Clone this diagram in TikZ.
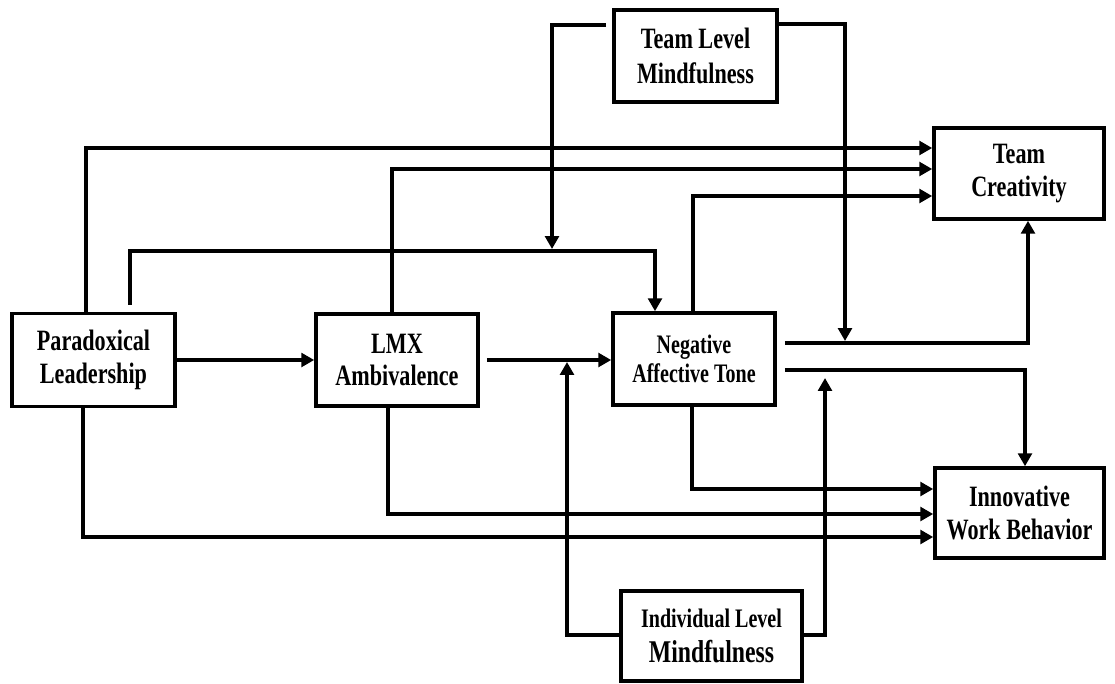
\documentclass[tikz,border=0pt]{standalone}
\usepackage{fontspec}
\setmainfont{Liberation Serif}[FakeStretch=0.75]
\usetikzlibrary{arrows.meta,calc}

\begin{document}
\begin{tikzpicture}[
  x=0.025cm,y=-0.025cm,
  every node/.style={font=\bfseries\fontsize{21}{23}\selectfont},
  var/.style={draw,line width=2.5pt,align=center,inner sep=0pt},
  link/.style={line width=2.5pt},
  arr/.style={link,-{Triangle[length=0.32cm,width=0.34cm]}}
]
  \useasboundingbox (0,0) rectangle (1115,683);

  % Variables
  \node[var,minimum width=4.075cm,minimum height=2.325cm] (PL)  at (93.5,360) {Paradoxical\\Leadership};
  \node[var,minimum width=4.05cm,minimum height=2.3cm]    (LMX) at (397,360)  {LMX\\Ambivalence};
  \node[var,minimum width=4.05cm,minimum height=2.3cm,font=\bfseries\fontsize{19}{21}\selectfont] (NAT) at (694,359) {Negative\\Affective Tone};
  \node[var,minimum width=4.075cm,minimum height=2.3cm,font=\bfseries\fontsize{21}{25}\selectfont] (TLM) at (695.5,56) {Team Level\\Mindfulness};
  \node[var,minimum width=4.25cm,minimum height=2.275cm]  (TC)  at (1019,173.5) {Team\\Creativity};
  \node[var,minimum width=4.225cm,minimum height=2.25cm]  (IWB) at (1019.5,513) {Innovative\\Work Behavior};
  \node[var,minimum width=4.525cm,minimum height=2.25cm,font=\bfseries\fontsize{19}{25}\selectfont] (ILM) at (711.5,636) {Individual Level\\{\fontsize{22.5}{25}\selectfont Mindfulness}};

  % Points where moderators meet a path
  \coordinate (j1) at (552,249);
  \coordinate (j2) at (845,341);
  \coordinate (j3) at (567,362);
  \coordinate (j4) at (825,378);

  % Main chain
  \draw[arr] (PL) -- (LMX);
  \draw[arr,shorten <=0.18cm] (LMX.east) -- (NAT.west |- LMX.east);

  % Paths to Team Creativity
  \draw[arr] (86,0 |- PL.north) -- (86,148) -- (TC.west |- 0,148);
  \draw[arr] (392,0 |- LMX.north) -- (392,169) -- (TC.west |- 0,169);
  \draw[arr] (693,0 |- NAT.north) -- (693,196) -- (TC.west |- 0,196);
  \draw[arr,shorten <=0.18cm] (130,0 |- PL.north) -- (130,251) -- (655,251) -- (655,0 |- NAT.north);

  % Moderators
  \draw[arr,shorten <=0.15cm] (TLM.west |- 0,25) -- (552,25) -- (j1);
  \draw[arr] (TLM.east |- 0,24) -- (845,24) -- (j2);
  \draw[arr] (ILM.west |- 0,635) -- (567,635) -- (j3);
  \draw[arr] (ILM.east |- 0,635) -- (825,635) -- (j4);

  % Outcomes
  \draw[arr,shorten <=0.2cm] (NAT.east |- 0,343) -- (1028,343) -- (1028,0 |- TC.south);
  \draw[arr,shorten <=0.2cm] (NAT.east |- 0,370) -- (1025,370) -- (1025,0 |- IWB.north);

  % Paths to Innovative Work Behavior
  \draw[arr] (692,0 |- NAT.south) -- (692,489) -- (IWB.west |- 0,489);
  \draw[arr] (388,0 |- LMX.south) -- (388,514) -- (IWB.west |- 0,514);
  \draw[arr] (83,0 |- PL.south) -- (83,537) -- (IWB.west |- 0,537);
\end{tikzpicture}
\end{document}
